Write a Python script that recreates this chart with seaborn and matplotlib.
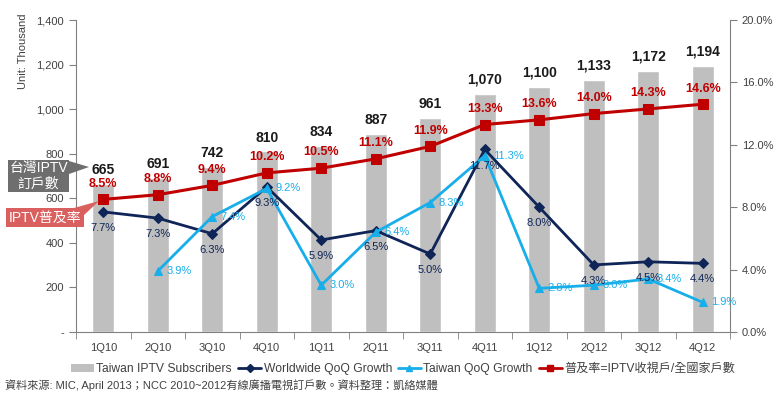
import numpy as np
import pandas as pd
import seaborn as sns
import matplotlib.pyplot as plt
from matplotlib.lines import Line2D
from matplotlib.patches import Patch, Polygon

# 資料
quarters = ['1Q10', '2Q10', '3Q10', '4Q10', '1Q11', '2Q11',
            '3Q11', '4Q11', '1Q12', '2Q12', '3Q12', '4Q12']
subscribers = [665, 691, 742, 810, 834, 887, 961, 1070, 1100, 1133, 1172, 1194]
penetration = [8.5, 8.8, 9.4, 10.2, 10.5, 11.1, 11.9, 13.3, 13.6, 14.0, 14.3, 14.6]
worldwide_qoq = [7.7, 7.3, 6.3, 9.3, 5.9, 6.5, 5.0, 11.7, 8.0, 4.3, 4.5, 4.4]
taiwan_qoq = [np.nan, 3.9, 7.4, 9.2, 3.0, 6.4, 8.3, 11.3, 2.8, 3.0, 3.4, 1.9]

left_ticks = [0, 200, 400, 600, 800, 1000, 1200, 1400]
left_labels = ['-', '200', '400', '600', '800', '1,000', '1,200', '1,400']
right_ticks = [0, 4, 8, 12, 16, 20]

GRAY_BAR = '#bfbfbf'
NAVY = '#0f2557'
BLUE = '#17aeea'
RED = '#c00000'
TXT = '#404040'

df = pd.DataFrame({'quarter': quarters, 'pos': range(len(quarters)),
                   'subs': subscribers, 'pen': penetration,
                   'ww': worldwide_qoq, 'tw': taiwan_qoq})

sns.set_style('white')
plt.rcParams['font.family'] = ['Liberation Sans', 'Noto Sans CJK TC']

W, H = 775, 396
fig = plt.figure(figsize=(W / 100, H / 100), dpi=100)
ax = fig.add_axes([76 / W, 1 - 332 / H, (730 - 76) / W, (332 - 20) / H])

# 柱狀圖
sns.barplot(data=df, x='quarter', y='subs', color=GRAY_BAR, saturation=1,
            width=0.4, ax=ax)
ax.set_xlim(-0.5, 11.5)
ax.set_ylim(0, 1400)
ax.set_yticks(left_ticks)
ax.set_yticklabels(left_labels)
ax.set_xlabel('')
ax.set_ylabel('Unit: Thousand', fontsize=8, color=TXT)
ax.yaxis.set_label_coords(-0.073, 0.9)
ax.set_xticks(np.arange(-0.5, 12, 1), minor=True)
ax.tick_params(axis='x', which='major', length=0, labelsize=8, labelcolor=TXT, pad=8)
ax.tick_params(axis='x', which='minor', bottom=True, length=5, color='#808080')
ax.tick_params(axis='y', left=True, length=5, color='#808080', labelsize=8, labelcolor=TXT)
for s in ['top', 'right']:
    ax.spines[s].set_visible(False)
for s in ['left', 'bottom']:
    ax.spines[s].set_color('#808080')

for i, v in enumerate(subscribers):
    ax.annotate(f'{v:,}', (i, v), xytext=(0, 5), textcoords='offset points',
                ha='center', va='bottom', fontsize=10, fontweight='bold', color='#1a1a1a')

# 右軸折線
ax2 = ax.twinx()
sns.lineplot(data=df, x='pos', y='ww', ax=ax2, color=NAVY, lw=2, marker='D',
             markersize=5, markeredgecolor=NAVY, errorbar=None)
sns.lineplot(data=df, x='pos', y='tw', ax=ax2, color=BLUE, lw=2, marker='^',
             markersize=6, markeredgecolor=BLUE, errorbar=None)
sns.lineplot(data=df, x='pos', y='pen', ax=ax2, color=RED, lw=2.2, marker='s',
             markersize=7, markeredgecolor=RED, errorbar=None)
ax2.set_ylim(0, 20)
ax2.set_xlim(-0.5, 11.5)
ax2.set_yticks(right_ticks)
ax2.set_yticklabels([f'{t:.1f}%' for t in right_ticks])
ax2.set_ylabel('')
ax2.tick_params(axis='y', right=True, length=5, color='#808080', labelsize=8, labelcolor=TXT)
for s in ['top', 'left', 'bottom']:
    ax2.spines[s].set_visible(False)
ax2.spines['right'].set_color('#808080')

for i, v in enumerate(penetration):
    ax2.annotate(f'{v:.1f}%', (i, v), xytext=(0, 7), textcoords='offset points',
                 ha='center', va='bottom', fontsize=9, fontweight='bold', color=RED)
for i, v in enumerate(worldwide_qoq):
    ax2.annotate(f'{v:.1f}%', (i, v), xytext=(0, -8), textcoords='offset points',
                 ha='center', va='top', fontsize=8, color=NAVY)
for i, v in enumerate(taiwan_qoq):
    if np.isnan(v):
        continue
    ax2.annotate(f'{v:.1f}%', (i, v), xytext=(6, 0), textcoords='offset points',
                 ha='left', va='center', fontsize=8, color=BLUE)

# 圖例
handles = [
    Patch(facecolor=GRAY_BAR, edgecolor='none'),
    Line2D([], [], color=NAVY, lw=2, marker='D', markersize=4),
    Line2D([], [], color=BLUE, lw=2, marker='^', markersize=5),
    Line2D([], [], color=RED, lw=2, marker='s', markersize=5),
]
labels = ['Taiwan IPTV Subscribers', 'Worldwide QoQ Growth',
          'Taiwan QoQ Growth', '普及率=IPTV收視戶/全國家戶數']
leg = fig.legend(handles, labels, loc='center', bbox_to_anchor=(403 / W, 1 - 369 / H),
                 ncol=4, frameon=False, fontsize=8.7, handlelength=1.9,
                 handletextpad=0.2, columnspacing=0.5)
for t in leg.get_texts():
    t.set_color(TXT)

# 註解框
def px(x, y):
    return (x / W, 1 - y / H)

fig.patches.append(Polygon([px(69, 161), px(69, 174), px(89, 167)], closed=True,
                           transform=fig.transFigure, fc='#6e6e6e', ec='none'))
fig.text(*px(38.5, 176), '台灣IPTV\n訂戶數', ha='center', va='center', fontsize=10,
         color='white', linespacing=1.15,
         bbox=dict(boxstyle='square,pad=0.12', fc='#6e6e6e', ec='none'))
fig.patches.append(Polygon([px(74, 208), px(83, 216), px(99, 201)], closed=True,
                           transform=fig.transFigure, fc='#d9605e', ec='none'))
fig.text(*px(45, 217.5), 'IPTV普及率', ha='center', va='center', fontsize=10,
         color='white',
         bbox=dict(boxstyle='square,pad=0.2', fc='#d9605e', ec='none'))

fig.text(5 / W, 1 - 385 / H,
         '資料來源: MIC, April 2013；NCC 2010~2012有線廣播電視訂戶數。資料整理：凱絡媒體',
         fontsize=8, color=TXT, va='center')

fig.savefig('out.png', dpi=100)
